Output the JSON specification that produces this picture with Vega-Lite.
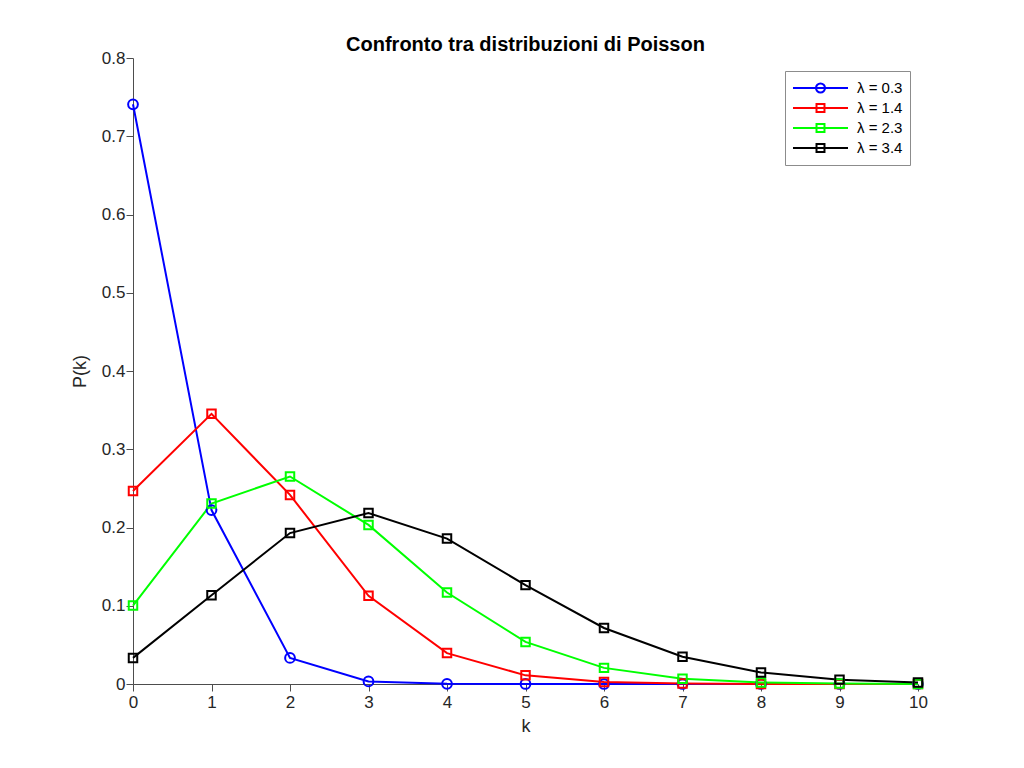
{
  "$schema": "https://vega.github.io/schema/vega-lite/v6.json",
  "autosize": {"type": "none"},
  "width": 785,
  "height": 626,
  "padding": {"left": 133, "top": 58, "right": 106, "bottom": 84},
  "background": "white",
  "title": {"text": "Confronto tra distribuzioni di Poisson", "fontSize": 20, "fontWeight": "bold", "font": "Liberation Sans", "color": "#000000", "baseline": "alphabetic", "offset": -22},
  "config": {
    "view": {"stroke": null},
    "font": "Liberation Sans",
    "axis": {
      "grid": false,
      "domainColor": "#4d4d4d",
      "tickColor": "#4d4d4d",
      "tickSize": 7,
      "labelFlush": false,
      "labelColor": "#262626",
      "labelFontSize": 17,
      "labelFont": "Liberation Sans",
      "titleColor": "#262626",
      "titleFontSize": 18,
      "titleFontWeight": "normal",
      "titleFont": "Liberation Sans"
    }
  },
  "data": {"values": [
    {"k": 0, "P": 0.740818, "s": "λ = 0.3"},
    {"k": 1, "P": 0.222245, "s": "λ = 0.3"},
    {"k": 2, "P": 0.033337, "s": "λ = 0.3"},
    {"k": 3, "P": 0.003334, "s": "λ = 0.3"},
    {"k": 4, "P": 0.000250, "s": "λ = 0.3"},
    {"k": 5, "P": 0.000015, "s": "λ = 0.3"},
    {"k": 6, "P": 0.000001, "s": "λ = 0.3"},
    {"k": 7, "P": 0.0, "s": "λ = 0.3"},
    {"k": 8, "P": 0.0, "s": "λ = 0.3"},
    {"k": 9, "P": 0.0, "s": "λ = 0.3"},
    {"k": 10, "P": 0.0, "s": "λ = 0.3"},
    {"k": 0, "P": 0.246597, "s": "λ = 1.4"},
    {"k": 1, "P": 0.345236, "s": "λ = 1.4"},
    {"k": 2, "P": 0.241665, "s": "λ = 1.4"},
    {"k": 3, "P": 0.112777, "s": "λ = 1.4"},
    {"k": 4, "P": 0.039472, "s": "λ = 1.4"},
    {"k": 5, "P": 0.011052, "s": "λ = 1.4"},
    {"k": 6, "P": 0.002579, "s": "λ = 1.4"},
    {"k": 7, "P": 0.000516, "s": "λ = 1.4"},
    {"k": 8, "P": 0.000090, "s": "λ = 1.4"},
    {"k": 9, "P": 0.000014, "s": "λ = 1.4"},
    {"k": 10, "P": 0.000002, "s": "λ = 1.4"},
    {"k": 0, "P": 0.100259, "s": "λ = 2.3"},
    {"k": 1, "P": 0.230595, "s": "λ = 2.3"},
    {"k": 2, "P": 0.265185, "s": "λ = 2.3"},
    {"k": 3, "P": 0.203308, "s": "λ = 2.3"},
    {"k": 4, "P": 0.116902, "s": "λ = 2.3"},
    {"k": 5, "P": 0.053775, "s": "λ = 2.3"},
    {"k": 6, "P": 0.020614, "s": "λ = 2.3"},
    {"k": 7, "P": 0.006773, "s": "λ = 2.3"},
    {"k": 8, "P": 0.001947, "s": "λ = 2.3"},
    {"k": 9, "P": 0.000498, "s": "λ = 2.3"},
    {"k": 10, "P": 0.000114, "s": "λ = 2.3"},
    {"k": 0, "P": 0.033373, "s": "λ = 3.4"},
    {"k": 1, "P": 0.113469, "s": "λ = 3.4"},
    {"k": 2, "P": 0.192898, "s": "λ = 3.4"},
    {"k": 3, "P": 0.218618, "s": "λ = 3.4"},
    {"k": 4, "P": 0.185825, "s": "λ = 3.4"},
    {"k": 5, "P": 0.126361, "s": "λ = 3.4"},
    {"k": 6, "P": 0.071604, "s": "λ = 3.4"},
    {"k": 7, "P": 0.034779, "s": "λ = 3.4"},
    {"k": 8, "P": 0.014781, "s": "λ = 3.4"},
    {"k": 9, "P": 0.005584, "s": "λ = 3.4"},
    {"k": 10, "P": 0.001899, "s": "λ = 3.4"}
  ]},
  "encoding": {
    "x": {"field": "k", "type": "quantitative", "title": "k",
      "scale": {"domain": [0, 10], "nice": false, "zero": false},
      "axis": {"values": [0,1,2,3,4,5,6,7,8,9,10], "format": "d", "labelPadding": 3, "titlePadding": 7,
        "encode": {"ticks": {"update": {"y2": {"value": -7}}}}}},
    "y": {"field": "P", "type": "quantitative", "title": "P(k)",
      "scale": {"domain": [0, 0.8], "nice": false},
      "axis": {"values": [0,0.1,0.2,0.3,0.4,0.5,0.6,0.7,0.8], "format": ".1~f", "labelPadding": 1, "titlePadding": 12,
        "encode": {"ticks": {"update": {"x2": {"value": 7}}}}}},
    "color": {"field": "s", "type": "nominal",
      "scale": {"domain": ["λ = 0.3", "λ = 1.4", "λ = 2.3", "λ = 3.4"], "range": ["#0000ff", "#ff0000", "#00ff00", "#000000"]},
      "legend": {"title": null, "orient": "none", "legendX": 652, "legendY": 13,
        "strokeColor": "#8c8c8c", "fillColor": "white", "padding": 7,
        "clipHeight": 20, "symbolSize": 3025, "symbolStrokeWidth": 2, "symbolFillColor": "transparent", "symbolOpacity": 1,
        "labelFontSize": 15, "labelColor": "#000000", "labelOffset": 8, "rowPadding": 0}}
  },
  "layer": [
    {"mark": {"type": "line", "strokeWidth": 2}},
    {"transform": [{"filter": "datum.s == 'λ = 0.3'"}],
      "mark": {"type": "point", "shape": "circle", "filled": false, "strokeWidth": 2, "size": 95, "opacity": 1}},
    {"transform": [{"filter": "datum.s != 'λ = 0.3'"}],
      "mark": {"type": "point", "shape": "square", "filled": false, "strokeWidth": 2, "size": 72, "opacity": 1}},
    {"transform": [{"filter": "datum.k > 100"}],
      "mark": {"type": "point", "filled": false, "strokeWidth": 2, "size": 3025, "opacity": 1},
      "encoding": {
        "shape": {"field": "s", "type": "nominal",
          "scale": {"domain": ["λ = 0.3", "λ = 1.4", "λ = 2.3", "λ = 3.4"],
            "range": [
              "M-1,0H1M-0.164,0A0.164,0.164,0,1,1,0.164,0A0.164,0.164,0,1,1,-0.164,0",
              "M-1,0H1M-0.145,-0.145H0.145V0.145H-0.145Z",
              "M-1,0H1M-0.145,-0.145H0.145V0.145H-0.145Z",
              "M-1,0H1M-0.145,-0.145H0.145V0.145H-0.145Z"]},
          "legend": {"title": null, "orient": "none", "legendX": 652, "legendY": 13,
            "strokeColor": "#8c8c8c", "fillColor": "white", "padding": 7,
            "clipHeight": 20, "symbolSize": 3025, "symbolStrokeWidth": 2, "symbolFillColor": "transparent", "symbolOpacity": 1,
            "labelFontSize": 15, "labelColor": "#000000", "labelOffset": 8, "rowPadding": 0}}
      }}
  ]
}
